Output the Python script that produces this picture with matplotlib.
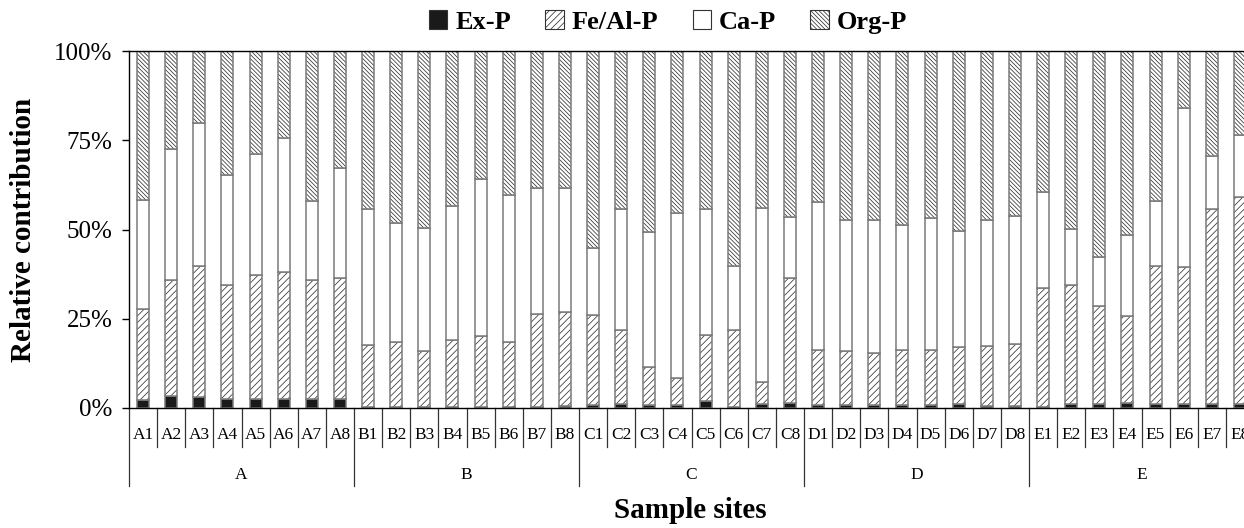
import matplotlib
matplotlib.use("Agg")
import matplotlib.pyplot as plt
from matplotlib.patches import Patch
from matplotlib.ticker import FuncFormatter
import numpy as np

plt.rcParams['font.family'] = ['Liberation Serif', 'DejaVu Serif']
plt.rcParams['hatch.linewidth'] = 0.55

groups = ['A', 'B', 'C', 'D', 'E']
sites = [g + str(i) for g in groups for i in range(1, 9)]

# relative contribution (%) of each fraction
ex_p = [2.2, 3.5, 3.0, 2.5, 2.5, 2.5, 2.5, 2.5,
        0.3, 0.3, 0.3, 0.3, 0.3, 0.3, 0.3, 0.5,
        0.8, 1.1, 0.8, 0.8, 2.0, 0.3, 1.0, 1.3,
        0.8, 0.8, 0.8, 0.8, 0.8, 1.0, 0.6, 0.6,
        0.3, 1.0, 1.0, 1.3, 1.0, 1.0, 1.0, 1.0]
feal_p = [25.5, 32.3, 36.9, 32.0, 34.8, 35.5, 33.3, 34.0,
          17.3, 18.1, 15.8, 18.8, 19.9, 18.1, 26.0, 26.3,
          25.3, 20.7, 10.8, 7.5, 18.5, 21.5, 6.2, 35.0,
          15.5, 15.1, 14.5, 15.5, 15.5, 16.2, 16.9, 17.4,
          33.3, 33.4, 27.7, 24.5, 38.9, 38.4, 54.8, 58.2]
ca_p = [30.7, 36.7, 39.9, 30.9, 33.8, 37.6, 22.3, 30.7,
        38.2, 33.3, 34.2, 37.6, 43.9, 41.2, 35.4, 34.9,
        18.8, 34.0, 37.6, 46.4, 35.3, 18.1, 48.9, 17.3,
        41.5, 36.9, 37.5, 35.1, 37.0, 32.4, 35.1, 35.9,
        27.0, 15.7, 13.6, 22.7, 18.2, 44.5, 14.9, 17.4]
org_p = [41.6, 27.5, 20.2, 34.6, 28.9, 24.4, 41.9, 32.8,
         44.2, 48.3, 49.7, 43.3, 35.9, 40.4, 38.3, 38.3,
         55.1, 44.2, 50.8, 45.3, 44.2, 60.1, 43.9, 46.4,
         42.2, 47.2, 47.2, 48.6, 46.7, 50.4, 47.4, 46.1,
         39.4, 49.9, 57.7, 51.5, 41.9, 16.1, 29.3, 23.4]

series = [('Ex-P', ex_p, '#1a1a1a', ''),
          ('Fe/Al-P', feal_p, 'white', '/////'),
          ('Ca-P', ca_p, 'white', ''),
          ('Org-P', org_p, 'white', '\\' * 8)]

fig = plt.figure(figsize=(12.44, 5.28), dpi=100)
ax = fig.add_axes([129 / 1244, 1 - 408 / 528, 1125 / 1244, 357 / 528])

x = np.arange(len(sites))
width = 0.43
bottom = np.zeros(len(sites))
total = np.array(ex_p) + np.array(feal_p) + np.array(ca_p) + np.array(org_p)
handles = []
for name, vals, color, hatch in series:
    frac = np.array(vals) / total
    ax.bar(x, frac, width, bottom=bottom, color=color, hatch=hatch,
           edgecolor='#333333', linewidth=0)
    ax.bar(x, frac, width, bottom=bottom, fill=False,
           edgecolor='#7a7a7a', linewidth=1.1)
    bottom += frac
    handles.append(Patch(facecolor=color, hatch=hatch, edgecolor='#333333',
                         linewidth=0.8, label=name))

ax.set_xlim(-0.5, len(sites) - 0.5)
ax.set_ylim(0, 1)
ax.set_yticks([0, 0.25, 0.5, 0.75, 1.0])
ax.yaxis.set_major_formatter(FuncFormatter(lambda v, p: '%d%%' % round(v * 100)))
ax.tick_params(axis='y', labelsize=18, length=5, width=1, pad=7)
ax.set_xticks([])
ax.spines['right'].set_visible(False)
for s in ['left', 'top', 'bottom']:
    ax.spines[s].set_linewidth(1.0)

trans = ax.get_xaxis_transform()
for k in range(len(sites) + 1):
    depth = -0.218 if k % 8 == 0 else -0.109
    ax.plot([k - 0.5, k - 0.5], [0, depth], color='#333333', lw=0.9,
            transform=trans, clip_on=False)
for i, s in enumerate(sites):
    ax.text(i, -0.076, s, transform=trans, ha='center', va='center', fontsize=12.5)
for j, g in enumerate(groups):
    ax.text(j * 8 + 3.5, -0.188, g, transform=trans, ha='center', va='center',
            fontsize=12.5)

fig.text(24 / 1244, 1 - 230 / 528, 'Relative contribution', rotation=90,
         ha='center', va='center', fontsize=21, fontweight='bold')
fig.text(690 / 1244, 1 - 510 / 528, 'Sample sites', ha='center', va='center',
         fontsize=21, fontweight='bold')

fig.legend(handles=handles, loc='center', bbox_to_anchor=(668 / 1244, 1 - 22 / 528),
           ncol=4, frameon=False, handlelength=0.7, handleheight=0.7,
           handletextpad=0.3, columnspacing=1.3,
           prop={'size': 19, 'weight': 'bold'})

fig.savefig('out.png', dpi=100)
